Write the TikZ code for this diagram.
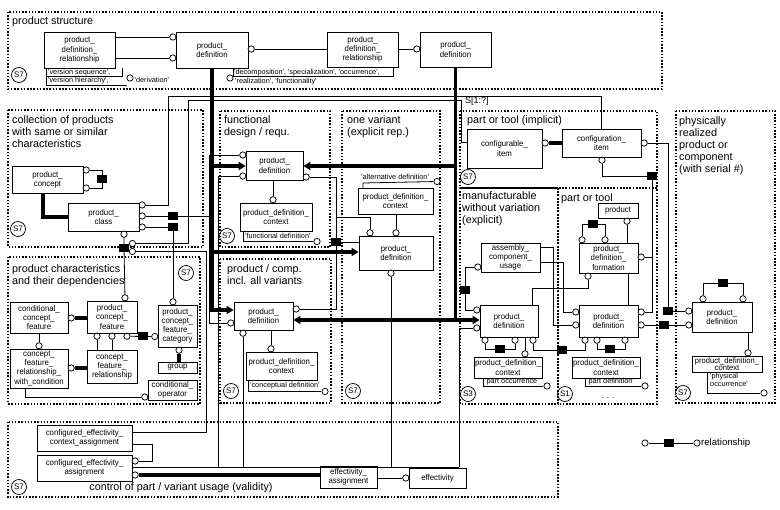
\documentclass[tikz,border=0pt]{standalone}
\usepackage{fontspec}
\setmainfont{Liberation Sans}
\newfontfamily\bxfam[FakeStretch=0.95]{Liberation Sans}
\usetikzlibrary{arrows.meta}
\newcommand\bxf{\bxfam\fontsize{8.2}{9.2}\selectfont}
\newcommand\hdf{\fontsize{10.8}{12}\selectfont}
\newcommand\anf{\fontsize{7.3}{8}\selectfont}
\newcommand\qq{\textquotesingle}
\newcommand\mkbox[7][]{\pgfmathsetmacro\bw{#5-#3}\pgfmathsetmacro\bh{#6-#4}\pgfmathsetmacro\bcx{(#3+#5)/2}\pgfmathsetmacro\bcy{(#4+#6)/2}\node[bx,minimum width=\bw pt,minimum height=\bh pt,#1] (#2) at (\bcx,\bcy) {#7};}
\newcommand\mkoc[3]{\node[oc] (#1) at (#2,#3) {};}
\newcommand\mksq[3]{\node[blk] (#1) at (#2,#3) {};}
\begin{document}
\begin{tikzpicture}[x=1pt,y=-1pt,
  bx/.style={draw,fill=white,line width=0.75pt,inner sep=0pt,align=center,font=\bxf},
  grp/.style={line width=1.5pt,dash pattern=on 1.5pt off 1.7pt},
  ln/.style={line width=0.8pt},
  thk/.style={line width=3.6pt},
  arr/.style={-{Triangle[length=7pt,width=8pt]}},
  oc/.style={circle,draw,fill=white,line width=0.75pt,inner sep=0pt,minimum size=6.3pt},
  blk/.style={fill=black,inner sep=0pt,minimum width=10pt,minimum height=8pt},
  slab/.style={circle,draw,line width=0.75pt,inner sep=0pt,minimum size=15pt,font=\fontsize{8}{8}\selectfont},
  hd/.style={anchor=north west,inner sep=0pt,align=left,font=\hdf},
  an/.style={anchor=west,inner sep=0pt,font=\anf},
]
\useasboundingbox (0,0) rectangle (780,510);
\fill[white] (0,0) rectangle (780,510);

% ---------- groups
\draw[grp] (8,12) rectangle (662,89);
\draw[grp] (8,110) rectangle (203,247);
\draw[grp] (8,257) rectangle (200,404);
\draw[grp] (220,111) rectangle (330,247);
\draw[grp] (342,111) rectangle (440,403);
\draw[grp] (220,259) rectangle (331,403);
\draw[grp] (460,111) rectangle (657,188);
\draw[grp] (460,188) rectangle (558,404);
\draw[grp] (558,188) rectangle (657,404);
\draw[grp] (676,111) rectangle (775,403);
\draw[grp] (8,422) rectangle (558,497);
\draw[line width=1.5pt] (460,188) -- (558,188);

% ---------- group labels
\node[hd] (hps) at (12,16.5) {product structure};
\node[hd] (hcol) at (12,115.5) {collection of products\\with same or similar\\characteristics};
\node[hd] (hfun) at (224,115.5) {functional\\design / requ.};
\node[hd] (hone) at (347,115.5) {one variant\\(explicit rep.)};
\node[hd] (hchr) at (12,264.5) {product characteristics\\and their dependencies};
\node[hd] (hcmp) at (227,264.5) {product / comp.\\incl. all variants};
\node[hd] (himp) at (467,115.5) {part or tool (implicit)};
\node[hd] (hman) at (462,191.5) {manufacturable\\without variation\\(explicit)};
\node[hd] (hpt) at (561,193) {part or tool};
\node[hd] (hphy) at (679,116.5) {physically\\realized\\product or\\component\\(with serial \#)};
\node[anchor=base,inner sep=0pt,font=\hdf] (hctl) at (181,491) {control of part / variant usage (validity)};
\node[anchor=base west,inner sep=0pt,font=\fontsize{9}{9}\selectfont] (hs) at (465,104) {S[1:?]};

% ---------- S labels
\node[slab] (s1) at (19,75) {S7};
\node[slab] (s2) at (18,229) {S7};
\node[slab] (s3) at (227,236) {S7};
\node[slab] (s4) at (186,273) {S7};
\node[slab] (s5) at (231,391) {S7};
\node[slab] (s6) at (353,391) {S7};
\node[slab] (s7) at (468,177) {S7};
\node[slab] (s8) at (468,394) {S3};
\node[slab] (s9) at (565,394) {S1};
\node[slab] (s10) at (683,393) {S7};
\node[slab] (s11) at (19,487) {S7};

% ---------- product structure
\mkbox{pdrA}{44}{32}{115}{68}{product\_\\definition\_\\relationship}
\mkbox{pdA}{176}{32}{248}{68}{product\_\\definition}
\mkbox{pdrB}{327}{32}{398}{67}{product\_\\definition\_\\relationship}
\mkbox{pdB}{420}{32}{491}{67}{product\_\\definition}
\mkoc{pdAl1}{172.8}{37}
\mkoc{pdAl2}{172.8}{58}
\mkoc{pdAr}{251.2}{49}
\mkoc{pdBl}{416.8}{49}
\draw[ln] (pdrA.east |- 0,37) -- (pdAl1);
\draw[ln] (pdrA.east |- 0,58) -- (pdAl2);
\draw[ln] (pdAr) -- (pdrB.west |- 0,49);
\draw[ln] (pdrB.east |- 0,49) -- (pdBl);
\node[an] (vs) at (48,72.2) {\qq version sequence\qq,};
\node[an] (vh) at (48,80.6) {\qq version hierarchy\qq,};
\mkoc{dvc}{130}{78}
\node[an] (dv) at (134.5,80) {\qq derivation\qq};
\draw[ln] (46,68) -- (46,85) -- (126.5,85);
\draw[ln] (46,76.3) -- (122,76.3) -- (122,68);
\mkoc{dsc}{230}{78}
\node[an] (dsn) at (234,72.2) {\qq decomposition\qq, \qq specialization\qq, \qq occurrence\qq,};
\node[an] (dsm) at (235,81.8) {\qq realization\qq, \qq functionality\qq};
\draw[ln] (233,68) -- (233,76.3) -- (393,76.3) -- (393,68);

% ---------- collection
\mkbox{pc}{12}{166}{83}{193}{product\_\\concept}
\mkbox{pcl}{68}{203}{139}{231}{product\_\\class}
\mkoc{pcr1}{86.2}{170}
\mkoc{pcr2}{86.2}{188}
\mksq{sqpc}{102}{179}
\draw[ln] (pcr1) -| (sqpc);
\draw[ln] (pcr2) -| (sqpc);
\draw[thk] (pc.south -| 43,0) |- (pcl.west);
\mkoc{pclr1}{142.2}{205}
\mkoc{pclr2}{142.2}{216}
\mkoc{pclr3}{142.2}{227}
\mkoc{pclb}{124}{234.2}
\mksq{sqa}{173}{216}
\mksq{sqb}{173}{227}
\mksq{sqc}{124}{248}
\mkoc{sqcr1}{132.4}{243.5}
\mkoc{sqcr2}{132.4}{251.5}

% ---------- product characteristics
\mkbox{ccf}{10}{302}{68}{333}{conditional\_\\concept\_\\feature}
\mkbox{pcf}{87}{301}{137}{333}{product\_\\concept\_\\feature}
\mkbox{pcfc}{158}{305}{197}{347}{product\_\\concept\_\\feature\_\\category}
\mkbox{grpb}{158}{362}{197}{373}{group}
\mkbox{cfrwc}{10}{349}{68}{388}{concept\_\\feature\_\\relationship\_\\with\_condition}
\mkbox{cfr}{87}{350}{137}{383}{concept\_\\feature\_\\relationship}
\mkbox{cop}{148}{380}{197}{400}{conditional\_\\operator}
\mkoc{ccfr}{71.2}{318}
\mkoc{cfrwct}{39}{345.8}
\mkoc{pcft}{125}{297.8}
\mkoc{pcfb1}{97}{336.2}
\mkoc{pcfb2}{112}{336.2}
\mkoc{pcfb3}{127}{336.2}
\mksq{sqd}{143}{336.5}
\mkoc{pcfcl}{154.8}{336.5}
\mkoc{pcfct}{173}{301.8}
\mkoc{pcfcb}{179}{350.2}
\mkoc{cfrwcr}{71.2}{368}
\mkoc{copl}{144.8}{397}
\draw[thk] (ccfr) -- (pcf.west |- ccfr);
\draw[ln] (ccf.south -| cfrwct) -- (cfrwct);
\draw[thk] (cfrwcr) -- (cfr.west |- cfrwcr);
\draw[ln] (pcfb1) -- (cfr.north -| pcfb1);
\draw[ln] (pcfb2) -- (cfr.north -| pcfb2);
\draw[ln] (pcfb3) -- (sqd) -- (pcfcl);
\draw[thk] (pcfcb) -- (grpb.north -| pcfcb);
\draw[ln] (cfrwc.south -| 25,0) |- (copl);
\draw[ln] (pclb) -- (sqc) -- (pcft);
\draw[ln] (pclr3) -- (sqb) -- (pcfct);

% ---------- functional
\mkbox{fpd}{246}{151}{303}{180}{product\_\\definition}
\mkbox{fpdc}{240}{203}{312}{231}{product\_definition\_\\context}
\mkoc{fpdl1}{242.8}{155}
\mkoc{fpdl2}{242.8}{176}
\mkoc{fpdr}{306.2}{177}
\mkoc{fpdct}{273}{199.8}
\draw[ln] (fpd.south -| fpdct) -- (fpdct);
\node[an] (fdn) at (245,236) {\qq functional definition\qq};
\mkoc{fdc}{317}{241.5}
\draw[ln] (243,231) -- (243,241.5) -- (fdc);

% ---------- one variant
\mkbox{ovpdc}{358}{188}{433}{214}{product\_definition\_\\context}
\mkbox{ovpd}{359}{236}{433}{270}{product\_\\definition}
\mkoc{ovpdt1}{370}{232.8}
\mkoc{ovpdt2}{396}{232.8}
\mkoc{ovpdb}{391}{273.2}
\mkoc{adc}{437}{181.5}
\node[an] (adn) at (361,177) {\qq alternative definition\qq};
\draw[ln] (363,188) -- (363,183) -- (adc);
\draw[ln] (ovpdc.south -| ovpdt2) -- (ovpdt2);

% ---------- comp incl. all variants
\mkbox{cpd}{234}{302}{293}{330}{product\_\\definition}
\mkbox{cpdc}{246}{352}{317}{380}{product\_definition\_\\context}
\mkoc{cpdr}{296.2}{309}
\mkoc{cpdl}{230.8}{323}
\mkoc{cpdb}{243}{333.2}
\mkoc{cpdct}{271}{348.8}
\draw[ln] (cpd.south -| cpdct) -- (cpdct);
\node[an] (cdn) at (250,385.5) {\qq conceptual definition\qq};
\mkoc{cdc}{325}{391.5}
\draw[ln] (248,380) -- (248,391.5) -- (cdc);

% ---------- part or tool (implicit)
\mkbox{cbi}{467}{129}{542}{168}{configurable\_\\item}
\mkbox{cfi}{562}{129}{641}{157}{configuration\_\\item}
\mkoc{cbir}{545.2}{143}
\mkoc{cfir}{644.2}{143}
\mkoc{cfib}{602}{160.2}
\draw[thk] (cbir) -- (cfi.west |- cbir);

% ---------- manufacturable
\mkbox{acu}{481}{243}{540}{272}{assembly\_\\component\_\\usage}
\mkbox{mpd}{480}{305}{538}{337}{product\_\\definition}
\mkbox{mpdc}{474}{357}{542}{378}{product\_definition\_\\context}
\mkoc{acul}{477.8}{267}
\mkoc{mpdl1}{476.8}{310}
\mkoc{mpdl2}{476.8}{328}
\mkoc{mpdb1}{485}{340.2}
\mkoc{mpdb2}{515}{340.2}
\mkoc{mpdb3}{533}{340.2}
\mkoc{mpdct}{525}{353.8}
\mksq{sqj}{465}{290}
\mksq{sqk}{500}{349}
\mksq{sql}{562}{350}
\node[an] (pon) at (485,381.5) {\qq part occurrence\qq};
\mkoc{poc}{547}{386}
\draw[ln] (483,378) -- (483,386) -- (poc);

% ---------- part or tool
\mkbox{prd}{598}{203}{638}{218}{product}
\mkbox{pdf}{579}{243}{638}{273}{product\_\\definition\_\\formation}
\mkbox{ptpd}{579}{305}{638}{337}{product\_\\definition}
\mkbox{ptpdc}{572}{357}{640}{378}{product\_definition\_\\context}
\mkoc{prdb}{627}{221.2}
\mkoc{pdft1}{582}{239.8}
\mkoc{pdft2}{605}{239.8}
\mkoc{pdfr}{641.2}{257}
\mkoc{pdfb}{588}{276.2}
\mkoc{ptpdl1}{575.8}{312}
\mkoc{ptpdl2}{575.8}{325}
\mkoc{ptpdr1}{641.2}{312}
\mkoc{ptpdr2}{641.2}{325}
\mkoc{ptpdb1}{585}{340.2}
\mkoc{ptpdb2}{597}{340.2}
\mkoc{ptpdb3}{625}{340.2}
\mksq{sqm}{593}{224}
\mksq{sqn}{610}{349}
\node[an] (pdn) at (587,381.5) {\qq part definition\qq};
\mkoc{pdc}{645}{386}
\draw[ln] (585,378) -- (585,386) -- (pdc);
\node[inner sep=0pt,font=\fontsize{8}{8}\selectfont] (dots) at (608,398) {.\,\,.\,\,.};

% ---------- physically realized
\mkbox{phpd}{692}{302}{752}{332}{product\_\\definition}
\mkbox[font=\bxfam\fontsize{8}{7.6}\selectfont]{phpdc}{692}{356}{762}{372}{product\_definition\_\\context}
\mkoc{phl1}{688.8}{311}
\mkoc{phl2}{688.8}{325}
\mkoc{pht1}{703}{298.8}
\mkoc{pht2}{743}{298.8}
\mkoc{phpdct}{748}{352.8}
\mksq{sqo}{723}{283}
\mksq{sqh}{668}{311}
\mksq{sqi}{664}{325}
\mksq{sqg}{652}{176}
\draw[ln] (pht1) |- (sqo);
\draw[ln] (pht2) |- (sqo);
\draw[ln] (phpd.south -| phpdct) -- (phpdct);
\node[an,anchor=north west,align=left,font=\fontsize{7.3}{8.2}\selectfont] (phn) at (710,373) {\qq physical\\occurrence\qq};
\mkoc{phc}{764}{393}
\draw[ln] (707,372) -- (707,393) -- (phc);

% ---------- legend
\mkoc{lg1}{645}{443}
\mksq{lgs}{669}{443}
\mkoc{lg2}{697}{443}
\draw[ln] (lg1) -- (lgs) -- (lg2);
\node[anchor=west,inner sep=0pt,font=\fontsize{9.6}{10}\selectfont] (lgt) at (701,443) {relationship};

% ---------- control of part / variant usage
\mkbox{ceca}{37}{425}{132}{451}{configured\_effectivity\_\\context\_assignment}
\mkbox{cea}{37}{455}{132}{481}{configured\_effectivity\_\\assignment}
\mkbox{ea}{320}{466}{377}{488}{effectivity\_\\assignment}
\mkbox{eff}{409}{468}{466}{488}{effectivity}
\mkoc{cear1}{135.2}{461}
\mkoc{cear2}{135.2}{475}
\mkoc{effl}{405.8}{478}
\draw[ln] (ceca.east |- 0,444) -| (152,461) -- (cear1);
\draw[ln] (cea.east |- 0,467) -- (459,467);
\draw[thk] (cear2) -- (ea.west |- cear2);
\draw[ln] (ea.east |- effl) -- (effl);

% ---------- long thin connectors
\draw[ln] (pclr1) -- (168,205) -- (168,96) -- (601.5,96) -- (cfi.north);
\draw[ln] (sqcr1) -- (188,243.5) -- (188,100) -- (461,100) -- (461,142) -- (cbi.west |- 0,142);
\draw[ln] (sqcr2) -- (206,251.5) |- (ceca.east |- 0,432);
\draw[ln] (pclr2) -- (sqa) -- (209,216);
\draw[ln] (fpdl1) -| (209,323) -- (cpdl);
\draw[ln] (fpdl2) -| (218,467);
\draw[ln] (cpdb) -- (243,467);
\draw[ln] (ovpdb) -- (391,467);
\draw[ln] (mpdl2) -| (459,467);
\mksq{sqf}{336}{242}
\draw[ln] (fpdr) -| (sqf);
\draw[ln] (sqf) |- (cpdr);
\draw[ln] (sqf) -- (ovpd.west |- sqf);
\draw[ln] (336,217) -| (ovpdt1);
\draw[ln] (acul) -| (sqj);
\draw[ln] (sqj) |- (mpdl1);
\draw[ln] (mpdb1) |- (sqk);
\draw[ln] (mpdb2) |- (sqk);
\draw[ln] (mpdb3) |- (sql);
\draw[ln] (sql) -| (ptpdb1);
\draw[ln] (mpd.south -| mpdct) -- (mpdct);
\draw[ln] (mpd.north -| 532,0) |- (588,288) -- (pdfb);
\draw[ln] (acu.east |- 0,247) -| (553,325) -- (ptpdl2);
\draw[ln] (acu.east |- 0,262) -| (563,312) -- (ptpdl1);
\draw[ln] (pdft1) |- (sqm);
\draw[ln] (pdft2) |- (sqm);
\draw[ln] (prdb) -- (pdf.north -| prdb);
\draw[ln] (pdf.south -| 628,0) -- (ptpd.north -| 628,0);
\draw[ln] (ptpdb2) |- (sqn);
\draw[ln] (ptpdb3) |- (sqn);
\draw[ln] (cfib) |- (sqg);
\draw[ln] (sqg) |- (ptpdr1);
\draw[ln] (652,257) -- (pdfr);
\draw[ln] (cfir) -| (sqh);
\draw[ln] (sqh) -- (phl1);
\draw[ln] (ptpdr2) -- (sqi) -- (phl2);

% ---------- thick arrows
\draw[thk,arr] (pdA.south) |- (cpd.west |- 0,310);
\draw[thk,arr] (pdA.south |- 0,166) -- (fpd.west |- 0,166);
\draw[thk,arr] (pdA.south |- 0,252) -- (ovpd.west |- 0,252);
\draw[thk] (pdB.south) -- (pdB.south |- 0,320);
\draw[thk,arr] (pdB.south |- 0,166) -- (fpd.east |- 0,166);
\draw[thk,arr] (pdB.south |- 0,320) -- (cpd.east |- 0,320);
\draw[thk,arr] (pdB.south |- 0,320) -- (mpd.west |- 0,320);
\end{tikzpicture}
\end{document}
